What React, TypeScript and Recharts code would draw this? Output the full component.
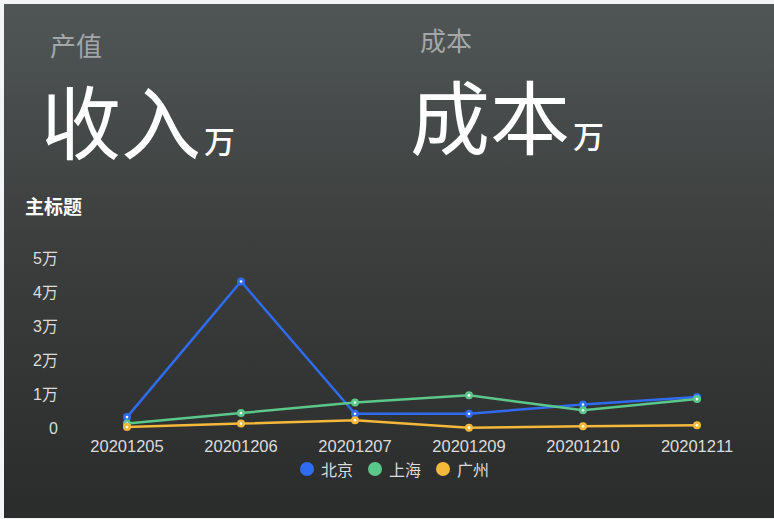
import React from 'react'
import { LineChart, Line, XAxis, YAxis, Legend } from 'recharts'

const months = ['20201205', '20201206', '20201207', '20201209', '20201210', '20201211']
const beijing = [3200, 43100, 4200, 4200, 6900, 9100]
const shanghai = [1300, 4400, 7500, 9600, 5200, 8500]
const guangzhou = [300, 1300, 2300, 100, 500, 800]
const yTicks = [0, 10000, 20000, 30000, 40000, 50000]

const SERIES = [
  { key: 'beijing', name: '北京', color: '#2f6cf2' },
  { key: 'shanghai', name: '上海', color: '#5bc78a' },
  { key: 'guangzhou', name: '广州', color: '#f4b93b' },
]

const FONT = 'Helvetica, Arial, "Liberation Sans", "Noto Sans CJK SC", sans-serif'
const CJK = '"Noto Sans CJK SC", "Noto Sans", sans-serif'

const chartData = months.map((m, i) => ({
  month: m,
  beijing: beijing[i],
  shanghai: shanghai[i],
  guangzhou: guangzhou[i],
}))

// colored dot with a tiny white centre
const makeDot = (color: string) => (props: any) => {
  const { cx, cy, index } = props
  if (cx == null || cy == null) return <g key={index} />
  return (
    <g key={index}>
      <circle cx={cx} cy={cy} r={4} fill={color} />
      <circle cx={cx} cy={cy} r={1.3} fill="#fff" />
    </g>
  )
}

const renderLegend = () => (
  <div
    style={{
      display: 'flex',
      alignItems: 'center',
      height: 24,
      paddingLeft: 300,
      fontFamily: CJK,
      fontSize: 16,
      color: '#dcdcdc',
    }}
  >
    {SERIES.map((s, i) => (
      <div
        key={s.key}
        style={{ display: 'flex', alignItems: 'center', marginLeft: i === 0 ? 0 : 15 }}
      >
        <span
          style={{
            width: 14,
            height: 14,
            borderRadius: 7,
            background: s.color,
            display: 'inline-block',
            marginRight: 7,
          }}
        />
        <span>{s.name}</span>
      </div>
    ))}
  </div>
)

const fmtY = (v: number) => (v === 0 ? '0' : `${v / 10000}万`)

export default function App() {
  return (
    <div
      style={{
        position: 'absolute',
        left: 0,
        top: 0,
        width: 774,
        height: 519,
        background: '#f3f4f5',
        overflow: 'hidden',
      }}
    >
      <div
        style={{
          position: 'absolute',
          left: 4,
          top: 4,
          width: 770,
          height: 514,
          background: 'linear-gradient(180deg, #505656 0%, #3c3f3e 45%, #2a2c2b 100%)',
        }}
      />
      <div style={{ position: 'absolute', left: 50, top: 32, fontFamily: CJK, fontSize: 26, lineHeight: 1, color: '#a3a7a7' }}>
        产值
      </div>
      <div style={{ position: 'absolute', left: 420, top: 27, fontFamily: CJK, fontSize: 26, lineHeight: 1, color: '#a3a7a7' }}>
        成本
      </div>
      <div style={{ position: 'absolute', left: 41, top: 78, fontFamily: CJK, fontSize: 80, lineHeight: 1, color: '#ffffff', whiteSpace: 'nowrap' }}>
        收入<span style={{ fontSize: 31, marginLeft: 3, fontWeight: 500 }}>万</span>
      </div>
      <div style={{ position: 'absolute', left: 410, top: 73, fontFamily: CJK, fontSize: 80, lineHeight: 1, color: '#ffffff', whiteSpace: 'nowrap' }}>
        成本<span style={{ fontSize: 31, marginLeft: 3, fontWeight: 500 }}>万</span>
      </div>
      <div style={{ position: 'absolute', left: 25, top: 196, fontFamily: CJK, fontSize: 19, fontWeight: 'bold', lineHeight: 1, color: '#ffffff' }}>
        主标题
      </div>
      <div style={{ position: 'absolute', left: 0, top: 0 }}>
        <LineChart
          width={774}
          height={519}
          data={chartData}
          margin={{ top: 258, right: 77, bottom: 38, left: 67 }}
        >
          <XAxis
            dataKey="month"
            axisLine={false}
            tickLine={false}
            tickSize={0}
            tickMargin={12}
            height={29}
            interval={0}
            padding={{ left: 0, right: 0 }}
            tick={{ fill: '#dcdcdc', fontSize: 16.5, fontFamily: FONT }}
          />
          <YAxis
            domain={[0, 50000]}
            ticks={yTicks}
            tickFormatter={fmtY}
            axisLine={false}
            tickLine={false}
            tickSize={0}
            tickMargin={69}
            width={60}
            tick={{ fill: '#dcdcdc', fontSize: 16, fontFamily: FONT }}
          />
          <Legend verticalAlign="bottom" content={renderLegend} wrapperStyle={{ left: 0, width: 774 }} />
          {SERIES.map((s) => (
            <Line
              key={s.key}
              type="linear"
              dataKey={s.key}
              name={s.name}
              stroke={s.color}
              strokeWidth={2.5}
              dot={makeDot(s.color)}
              activeDot={false}
              isAnimationActive={false}
            />
          ))}
        </LineChart>
      </div>
    </div>
  )
}
